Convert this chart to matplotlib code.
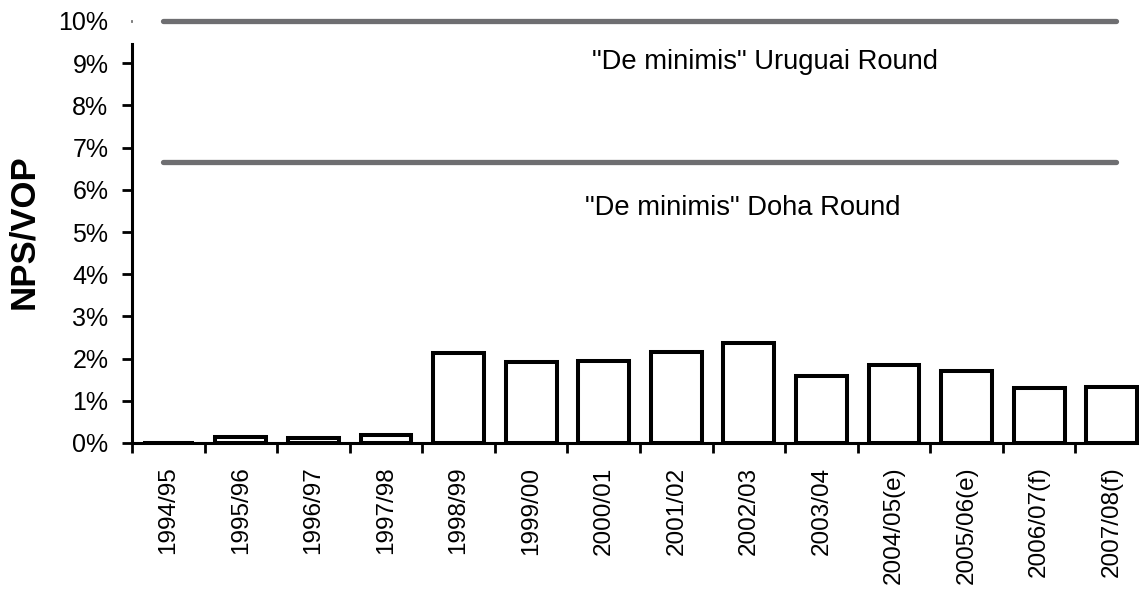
import matplotlib
matplotlib.use("Agg")
import matplotlib.pyplot as plt
import numpy as np

plt.rcParams['font.family'] = ['Liberation Sans', 'DejaVu Sans']

# NPS/VOP ratio per marketing year (%)
years = ["1994/95", "1995/96", "1996/97", "1997/98", "1998/99", "1999/00",
         "2000/01", "2001/02", "2002/03", "2003/04", "2004/05(e)",
         "2005/06(e)", "2006/07(f)", "2007/08(f)"]
nps_vop = [0.01, 0.14, 0.12, 0.19, 2.13, 1.91, 1.95, 2.15, 2.37, 1.58,
           1.86, 1.70, 1.31, 1.33]

# de minimis limits (%)
uruguay_limit = 10.0
doha_limit = 6.67
yticks = np.arange(0, 11, 1)

fig = plt.figure(figsize=(11.39, 5.92), dpi=100)
# axes runs a little past the right edge, like the original crop
ax = fig.add_axes([132 / 1139, 149 / 592, 1016 / 1139, 422 / 592])

index = np.arange(len(years))
ax.bar(index, nps_vop, 0.7, color='white', edgecolor='black', linewidth=2.9)

# de minimis reference lines
for level in (uruguay_limit, doha_limit):
    ax.hlines(level, -0.07, 13.06, color='#6e6e71', linewidth=3.8,
              capstyle='round', clip_on=False, zorder=3)
ax.text(5.84, 9.04, '"De minimis" Uruguai Round', fontsize=19.7,
        ha='left', va='center')
ax.text(5.74, 5.58, '"De minimis" Doha Round', fontsize=19.7,
        ha='left', va='center')

ax.set_xlim(-0.5, len(years) - 0.5)
ax.set_ylim(0, 10)

# ticks between the categories, labels at the centres
ax.set_xticks(index - 0.5, minor=False)
ax.set_xticklabels([])
ax.set_xticks(index, minor=True)
ax.set_xticklabels(years, minor=True, rotation=90, fontsize=17.5, va='top')
ax.tick_params(axis='x', which='minor', length=0, pad=17)
ax.tick_params(axis='x', which='major', direction='out', length=7, width=2)

ax.set_yticks(yticks)
ax.set_yticklabels(['{}%'.format(int(t)) for t in yticks], fontsize=18)
ax.tick_params(axis='y', direction='out', length=7, width=2, pad=10)
ax.yaxis.get_major_ticks()[-1].tick1line.set_markersize(1)

ax.set_ylabel('NPS/VOP', fontsize=25, fontweight='bold')
ax.yaxis.set_label_coords(-92 / 1016, 0.5)

for side in ('top', 'right'):
    ax.spines[side].set_visible(False)
ax.spines['left'].set_linewidth(2.2)
ax.spines['bottom'].set_linewidth(2.2)
ax.spines['left'].set_bounds(0, 9.46)

fig.savefig('out.png', dpi=100)
